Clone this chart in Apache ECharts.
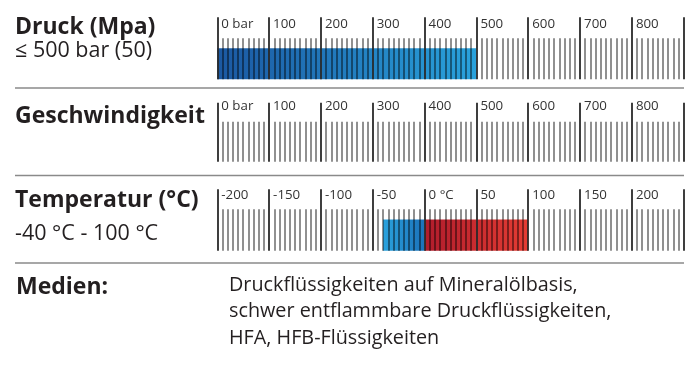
<!DOCTYPE html>
<html><head><meta charset="utf-8">
<script src="https://cdn.jsdelivr.net/npm/echarts@6/dist/echarts.min.js"></script>
<style>html,body{margin:0;padding:0;background:#fff}#c{width:700px;height:367px}</style>
</head><body><div id="c"></div>
<script>
// ---- data ----
const pressureRange = [0, 900];
const pressureInterval = 100;
const pressureTickLabels = ['0 bar','100','200','300','400','500','600','700','800',''];
const pressureValue = [500];

const speedRange = [0, 900];
const speedInterval = 100;
const speedTickLabels = ['0 bar','100','200','300','400','500','600','700','800',''];

const tempRange = [-200, 250];
const tempInterval = 50;
const tempTickLabels = ['-200','-150','-100','-50','0 °C','50','100','150','200',''];
const tempCold = [-40];
const tempHot = [100];

const rowTitles = ['Druck (Mpa)', 'Geschwindigkeit', 'Temperatur (°C)'];
const rowSubtitles = ['≤ 500 bar (50)', '', '-40 °C - 100 °C'];
const mediaTitle = 'Medien:';
const mediaLines = ['Druckflüssigkeiten auf Mineralölbasis,', 'schwer entflammbare Druckflüssigkeiten,', 'HFA, HFB-Flüssigkeiten'];

// ---- layout ----
const FONT = '"Open Sans", "Noto Sans", sans-serif';
const rows = [
  {top: 48.3, height: 31, major: 62, minor: 41},
  {top: 130.7, height: 31, major: 59, minor: 40},
  {top: 219.5, height: 31.2, major: 61.4, minor: 41.4}
];
const gridLeft = 217.3, gridRight = 16.3;

function makeX(i, range, interval, labels) {
  return {
    type: 'value', gridIndex: i, min: range[0], max: range[1], interval: interval,
    position: 'bottom', z: 10,
    axisLine: {show: false}, splitLine: {show: false},
    axisTick: {show: true, inside: true, length: rows[i].major, lineStyle: {color: '#2a2a2a', width: 1.8}},
    minorTick: {show: true, splitNumber: 10, length: rows[i].minor, lineStyle: {color: 'rgba(0,0,0,0.58)', width: 1.5}},
    minorSplitLine: {show: false},
    axisLabel: {
      show: true, inside: true, margin: 55, interval: 0, align: 'left', verticalAlign: 'middle',
      padding: [0, 0, 0, 4], fontSize: 13.3, color: '#333', fontFamily: FONT,
      showMinLabel: true, showMaxLabel: true,
      formatter: function (v) { return labels[Math.round((v - range[0]) / interval)] || ''; }
    }
  };
}
function makeY(i) {
  return {type: 'category', gridIndex: i, data: [''], show: false, boundaryGap: true};
}

const chart = echarts.init(document.getElementById('c'), null, {renderer: 'canvas'});
const LG = echarts.graphic.LinearGradient;

const graphics = [];
[88, 175.5, 263].forEach(function (y) {
  graphics.push({type: 'line', shape: {x1: 15, y1: y, x2: 684, y2: y}, style: {stroke: '#8a8a8a', lineWidth: 1.6}, silent: true});
});
const titleY = [27, 116.5, 200.5];
const subY = [50.5, 0, 234];
rowTitles.forEach(function (t, i) {
  graphics.push({type: 'text', x: 15, y: titleY[i], style: {text: t, fontSize: 23, fontWeight: 'bold', fontFamily: FONT, fill: '#231f20', verticalAlign: 'middle'}});
  if (rowSubtitles[i]) {
    graphics.push({type: 'text', x: 15, y: subY[i], style: {text: rowSubtitles[i], fontSize: 21.5, fontFamily: FONT, fill: '#231f20', verticalAlign: 'middle'}});
  }
});
graphics.push({type: 'text', x: 16, y: 287.3, style: {text: mediaTitle, fontSize: 23, fontWeight: 'bold', fontFamily: FONT, fill: '#231f20', verticalAlign: 'middle'}});
mediaLines.forEach(function (t, i) {
  graphics.push({type: 'text', x: 229, y: 285 + i * 26.7, style: {text: t, fontSize: 19.8, fontFamily: FONT, fill: '#231f20', verticalAlign: 'middle'}});
});

chart.setOption({
  animation: false,
  backgroundColor: '#fff',
  grid: rows.map(function (r) {
    return {left: gridLeft, right: gridRight, top: r.top, height: r.height, containLabel: false, outerBoundsMode: 'none'};
  }),
  xAxis: [
    makeX(0, pressureRange, pressureInterval, pressureTickLabels),
    makeX(1, speedRange, speedInterval, speedTickLabels),
    makeX(2, tempRange, tempInterval, tempTickLabels)
  ],
  yAxis: [makeY(0), makeY(1), makeY(2)],
  series: [
    {type: 'bar', name: 'Druck', xAxisIndex: 0, yAxisIndex: 0, data: pressureValue, barWidth: '100%', silent: true,
      itemStyle: {color: new LG(0, 0, 1, 0, [{offset: 0, color: '#1b58a2'}, {offset: 1, color: '#29a2dc'}])}},
    {type: 'bar', name: 'kalt', xAxisIndex: 2, yAxisIndex: 2, data: tempCold, barWidth: '100%', barGap: '-100%', silent: true,
      itemStyle: {color: new LG(0, 0, 1, 0, [{offset: 0, color: '#2aa2dd'}, {offset: 1, color: '#1b72ba'}])}},
    {type: 'bar', name: 'warm', xAxisIndex: 2, yAxisIndex: 2, data: tempHot, barWidth: '100%', barGap: '-100%', silent: true,
      itemStyle: {color: new LG(0, 0, 1, 0, [{offset: 0, color: '#b01c2c'}, {offset: 1, color: '#e53c33'}])}}
  ],
  graphic: graphics
});
</script>
</body></html>
